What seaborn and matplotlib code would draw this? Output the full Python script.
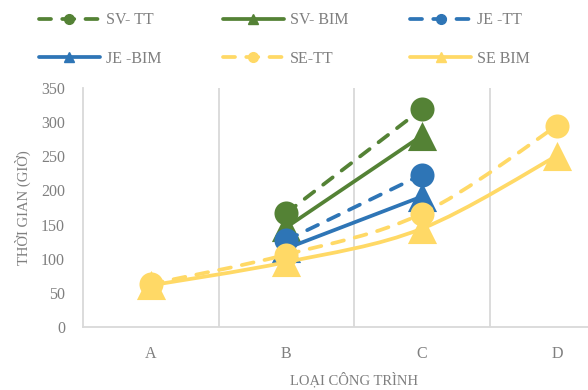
import numpy as np
import pandas as pd
import matplotlib
matplotlib.use("Agg")
import matplotlib.pyplot as plt
from matplotlib.path import Path
from matplotlib.patches import PathPatch
from matplotlib.lines import Line2D
import seaborn as sns

# ---- data -------------------------------------------------------------
categories = ["A", "B", "C", "D"]
series_names = ["SV- TT", "SV- BIM", "JE -TT", "JE -BIM", "SE-TT", "SE BIM"]
sv_tt = [None, 167, 319, None]
sv_bim = [None, 146, 280, None]
je_tt = [None, 127, 223, None]
je_bim = [None, 115, 191, None]
se_tt = [63, 106, 166, 295]
se_bim = [61, 95, 144, 251]
y_ticks = [0, 50, 100, 150, 200, 250, 300, 350]

green, blue, yellow = "#548235", "#2E75B6", "#FFD966"
styles = [
    (green, "dash", "o"),
    (green, "solid", "^"),
    (blue, "dash", "o"),
    (blue, "solid", "^"),
    (yellow, "dash", "o"),
    (yellow, "solid", "^"),
]
all_values = [sv_tt, sv_bim, je_tt, je_bim, se_tt, se_bim]

rows = []
for name, vals in zip(series_names, all_values):
    for i, v in enumerate(vals):
        if v is not None:
            rows.append({"series": name, "cat": categories[i], "x": i, "value": v})
df = pd.DataFrame(rows)

# ---- figure -----------------------------------------------------------
sns.set_theme(style="white")
plt.rcParams["font.family"] = ["Liberation Serif", "DejaVu Serif"]

fig = plt.figure(figsize=(5.88, 3.90), dpi=100)
ax = fig.add_axes([83 / 588, 1 - 327 / 390, 542 / 588, 239 / 390])

grey_line = "#D9D9D9"
text_grey = "#7F7F7F"
dash_pat = (0, (3.2, 3.0))


def smooth_path(xs, ys):
    """Cubic Bezier path through the points (spreadsheet-style smoothing)."""
    pts = np.column_stack([xs, ys]).astype(float)
    n = len(pts)
    verts = [pts[0]]
    codes = [Path.MOVETO]
    for i in range(n - 1):
        p0 = pts[i - 1] if i > 0 else pts[i]
        p1 = pts[i]
        p2 = pts[i + 1]
        p3 = pts[i + 2] if i + 2 < n else pts[i + 1]
        c1 = p1 + (p2 - p0) / 6.0
        c2 = p2 - (p3 - p1) / 6.0
        verts += [c1, c2, p2]
        codes += [Path.CURVE4] * 3
    return Path(verts, codes)


for k, (name, (color, ls, mk)) in enumerate(zip(series_names, styles)):
    sub = df[df["series"] == name].sort_values("x")
    path = smooth_path(sub["x"].values, sub["value"].values)
    patch = PathPatch(path, fill=False, edgecolor=color, lw=2.7,
                      linestyle=dash_pat if ls == "dash" else "solid",
                      capstyle="round", joinstyle="round", zorder=2 + 2 * k)
    ax.add_patch(patch)
    sns.scatterplot(data=sub, x="x", y="value", ax=ax, color=color,
                    marker=mk, s=300 if mk == "o" else 440,
                    linewidth=0, zorder=3 + 2 * k, legend=False)

ax.set_xlim(-0.5, 3.5)
ax.set_ylim(0, 350)
ax.set_xticks(range(len(categories)))
ax.set_xticklabels(categories)
ax.set_yticks(y_ticks)
ax.tick_params(axis="both", length=0, labelsize=11.5, labelcolor=text_grey)
ax.tick_params(axis="x", pad=14)
ax.tick_params(axis="y", pad=13)

for xb in [0.5, 1.5, 2.5]:
    ax.axvline(xb, color=grey_line, lw=1.3, zorder=0)
for side in ["top", "right"]:
    ax.spines[side].set_visible(False)
for side in ["left", "bottom"]:
    ax.spines[side].set_color(grey_line)
    ax.spines[side].set_linewidth(1.3)

ax.set_xlabel("LOẠI CÔNG TRÌNH", fontsize=10.5, color=text_grey, labelpad=7)
ax.set_ylabel("THỜI GIAN (GIỜ)", fontsize=10.5, color=text_grey, labelpad=7)

handles = []
for name, (color, ls, mk) in zip(series_names, styles):
    handles.append(Line2D([0], [0], color=color, lw=2.7,
                          linestyle=dash_pat if ls == "dash" else "solid",
                          marker=mk, markersize=7, dash_capstyle="round",
                          solid_capstyle="round", label=name))

# legend entries run across the rows, three per row
order = [0, 3, 1, 4, 2, 5]
fig.legend(handles=[handles[i] for i in order], loc="upper left",
           bbox_to_anchor=(0.042, 1.005),
           ncol=3, frameon=False, fontsize=11.5, labelcolor=text_grey,
           handlelength=3.8, handletextpad=0.4, columnspacing=3.85,
           labelspacing=1.4)

fig.savefig("out.png", dpi=100)
